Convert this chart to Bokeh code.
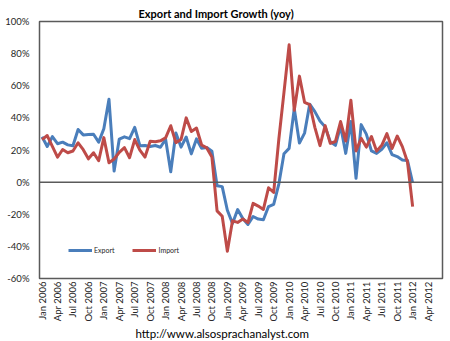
from math import pi
from bokeh.plotting import figure
from bokeh.models import Range1d, FixedTicker, Span, Title, Legend, LegendItem
from bokeh.embed import file_html
from bokeh.resources import INLINE

# month index: 0 = Jan 2006 ... 72 = Jan 2012
months = list(range(73))

export_growth = [
    28.2, 22.2, 28.3, 23.9, 24.9, 23.2, 22.6, 32.8, 29.4, 29.6, 29.8, 24.9,
    33.2, 51.6, 6.9, 26.8, 28.2, 27.1, 34.1, 22.7, 22.8, 22.2, 22.8, 21.7,
    26.7, 6.5, 30.6, 21.8, 28.1, 17.6, 26.9, 21.1, 21.5, 19.2, -2.2, -2.8,
    -17.5, -25.7, -17.1, -22.6, -26.4, -21.4, -23.0, -23.4, -15.2, -13.8, -1.2, 17.7,
    21.0, 45.7, 24.3, 30.5, 48.5, 43.9, 38.1, 34.4, 25.1, 22.9, 34.9, 17.9,
    37.7, 2.4, 35.8, 29.9, 19.4, 17.9, 20.4, 24.5, 17.1, 15.9, 13.8, 13.4,
    -0.5,
]

import_growth = [
    26.5, 29.0, 22.3, 15.5, 20.3, 18.3, 19.4, 24.5, 20.2, 14.5, 18.3, 13.3,
    27.7, 12.1, 14.4, 18.5, 21.5, 15.2, 26.5, 19.9, 15.6, 25.5, 25.2, 25.7,
    27.6, 35.1, 24.6, 26.5, 40.0, 31.5, 33.7, 23.1, 21.3, 15.6, -17.9, -21.3,
    -43.1, -24.1, -25.1, -23.0, -25.2, -13.2, -14.9, -17.0, -3.5, -6.4, 26.7, 55.9,
    85.5, 44.7, 66.0, 49.7, 48.3, 34.1, 22.7, 35.2, 24.1, 25.3, 37.7, 25.6,
    51.0, 19.4, 27.3, 21.8, 28.4, 19.3, 22.9, 30.2, 20.9, 28.7, 22.1, 12.5,
    -15.3,
]

tick_positions = list(range(0, 76, 3))
tick_labels = [
    "Jan 2006", "Apr 2006", "Jul 2006", "Oct 2006",
    "Jan 2007", "Apr 2007", "Jul 2007", "Oct 2007",
    "Jan 2008", "Apr 2008", "Jul 2008", "Oct 2008",
    "Jan 2009", "Apr 2009", "Jul 2009", "Oct 2009",
    "Jan 2010", "Apr 2010", "Jul 2010", "Oct 2010",
    "Jan 2011", "Apr 2011", "Jul 2011", "Oct 2011",
    "Jan 2012", "Apr 2012",
]
y_ticks = [-60, -40, -20, 0, 20, 40, 60, 80, 100]
y_tick_labels = ["-60%", "-40%", "-20%", "0%", "20%", "40%", "60%", "80%", "100%"]

title_text = "Export and Import Growth (yoy)"
footer_text = "http://www.alsosprachanalyst.com"

FONT = "Lato"
TEXT = "#262626"
BLUE = "#4A7EBB"
RED = "#BE4B48"

p = figure(width=450, height=341,
           x_range=Range1d(-0.5, 77.8), y_range=Range1d(-60, 100),
           output_backend="svg", toolbar_location=None,
           min_border_left=39, min_border_right=8,
           min_border_top=21, min_border_bottom=63)
p.background_fill_color = "white"
p.border_fill_color = "white"
p.outline_line_color = "#5a5a5a"
p.outline_line_width = 1.5
p.xgrid.visible = False
p.ygrid.visible = False

p.title = Title(text=title_text, align="left", offset=99, standoff=0,
                vertical_align="top", text_font=FONT, text_font_style="bold",
                text_font_size="11px", text_color="#000000")

# x axis
p.xaxis.ticker = FixedTicker(ticks=tick_positions)
p.xaxis.major_label_overrides = dict(zip(tick_positions, tick_labels))
p.xaxis.major_label_orientation = pi / 2
p.xaxis.axis_line_color = None
p.xaxis.major_tick_line_color = None
p.xaxis.minor_tick_line_color = None
p.xaxis.major_tick_in = 0
p.xaxis.major_tick_out = 0
p.xaxis.major_label_standoff = 3
p.xaxis.major_label_text_font = FONT
p.xaxis.major_label_text_font_size = "9.5px"
p.xaxis.major_label_text_color = TEXT

# y axis
p.yaxis.ticker = FixedTicker(ticks=y_ticks)
p.yaxis.major_label_overrides = dict(zip(y_ticks, y_tick_labels))
p.yaxis.axis_line_color = None
p.yaxis.major_tick_line_color = None
p.yaxis.minor_tick_line_color = None
p.yaxis.major_tick_in = 0
p.yaxis.major_tick_out = 0
p.yaxis.major_label_standoff = 10
p.yaxis.major_label_text_font = FONT
p.yaxis.major_label_text_font_size = "9.5px"
p.yaxis.major_label_text_color = TEXT

# zero line
p.add_layout(Span(location=0, dimension="width", line_color="#5a5a5a", line_width=1.5))

r_exp = p.line(months, export_growth, line_color=BLUE, line_width=3, line_join="round")
r_imp = p.line(months, import_growth, line_color=RED, line_width=3, line_join="round")

legend = Legend(items=[LegendItem(label="Export", renderers=[r_exp]),
                       LegendItem(label="Import", renderers=[r_imp])],
                orientation="horizontal", location=(29, 24),
                label_text_font=FONT, label_text_font_size="7px",
                label_text_color=TEXT, glyph_width=24, glyph_height=8,
                label_standoff=2, spacing=18, padding=2, margin=0,
                border_line_color=None, background_fill_alpha=0)
p.add_layout(legend)

p.add_layout(Title(text=footer_text, align="left", offset=96, standoff=0,
                   vertical_align="bottom", text_font=FONT, text_font_style="normal",
                   text_font_size="11.5px", text_color="#000000"), "below")

open("out.html", "w").write(file_html(p, INLINE))
